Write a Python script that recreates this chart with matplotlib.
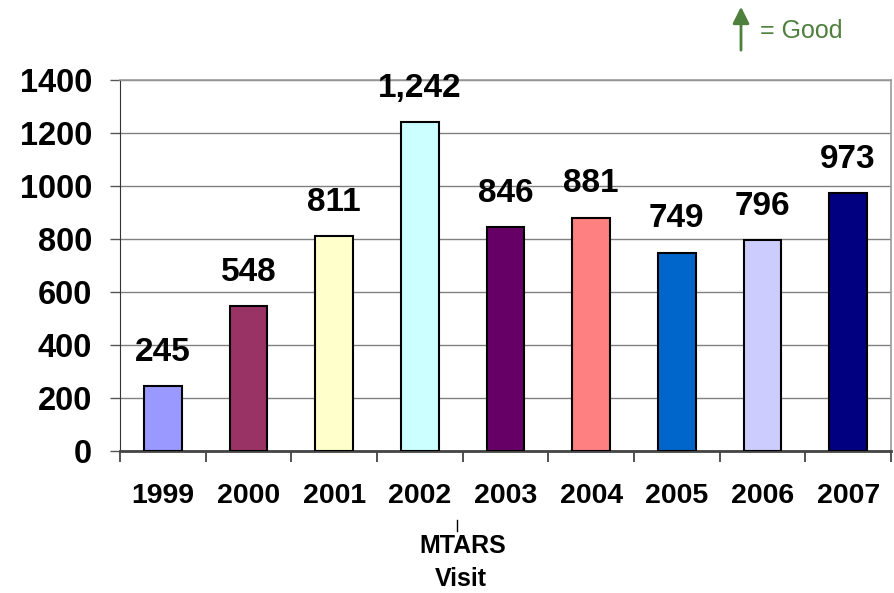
import numpy as np
import matplotlib.pyplot as plt
from matplotlib.lines import Line2D

plt.rcParams['font.family'] = ['Liberation Sans', 'DejaVu Sans']

years = ['1999', '2000', '2001', '2002', '2003', '2004', '2005', '2006', '2007']
visits = [245, 548, 811, 1242, 846, 881, 749, 796, 973]
bar_colors = ['#9999FF', '#993366', '#FFFFCC', '#CCFFFF', '#660066',
              '#FF8080', '#0066CC', '#CCCCFF', '#000080']

fig = plt.figure(figsize=(8.94, 5.93), dpi=100)
ax = fig.add_axes([120/894, 142/593, 771/894, 371/593])

x = np.arange(len(years))
ax.bar(x, visits, width=0.44, color=bar_colors, edgecolor='black', linewidth=1.5, zorder=3)

for xi, v in zip(x, visits):
    ax.annotate(f'{v:,}', (xi, v), xytext=(0, 13), textcoords='offset points',
                ha='center', va='bottom', fontsize=24, fontweight='bold')

ax.set_xlim(-0.5, len(years) - 0.5)
ax.set_ylim(0, 1400)
ax.set_yticks(np.arange(0, 1401, 200))
ax.tick_params(axis='y', labelsize=23.5, length=7, width=1, color='#555555', pad=13)
for lab in ax.get_yticklabels():
    lab.set_fontweight('bold')
ax.yaxis.grid(True, color='#808080', lw=1, zorder=0)

ax.set_xticks(x)
ax.set_xticklabels(years, fontsize=20.5, fontweight='bold')
ax.set_xticks(np.arange(-0.5, len(years)), minor=True)
ax.tick_params(axis='x', which='major', length=0, pad=23)
ax.tick_params(axis='x', which='minor', length=8, width=1.2, color='#333333')

for side in ['top', 'right']:
    ax.spines[side].set_color('#999999')
    ax.spines[side].set_linewidth(1.2)
ax.spines['left'].set_color('#333333')
ax.spines['bottom'].set_color('#444444')
ax.spines['bottom'].set_linewidth(2)

# axis title
fig.text(463/894, 1 - 546/593, 'MTARS', ha='center', va='center',
         fontsize=18, fontweight='bold')
fig.text(461/894, 1 - 579/593, 'Visit', ha='center', va='center',
         fontsize=18, fontweight='bold')
fig.add_artist(Line2D([457/894, 457/894], [1 - 520/593, 1 - 531/593],
                      color='black', lw=1))

# "= Good" marker
green = '#4E7F3C'
ax.annotate('', xy=(741/894, 1 - 4/593), xytext=(741/894, 1 - 53/593),
            xycoords='figure fraction', textcoords='figure fraction',
            arrowprops=dict(arrowstyle='-|>,head_length=1.0,head_width=0.5',
                            color=green, lw=2))
fig.text(760/894, 1 - 31/593, '= Good', ha='left', va='center',
         fontsize=18, color=green)

fig.savefig('out.png', dpi=100)
